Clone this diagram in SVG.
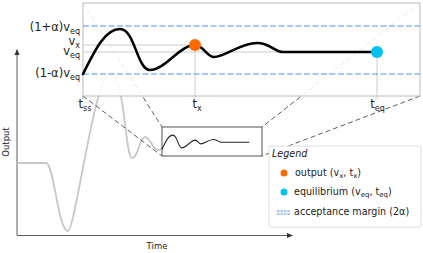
<svg xmlns="http://www.w3.org/2000/svg" width="423" height="253" viewBox="0 0 423 253">
<defs>
<style>
text{font-family:"DejaVu Sans","Liberation Sans",sans-serif;fill:#222}
.lab{font-size:11.5px}
.sub{font-size:8px}
.leg{font-size:9.6px}
.lsub{font-size:7px}
.conn{stroke:#333;stroke-width:0.8;stroke-dasharray:5,3;fill:none}
.margin{stroke:#4a90ff;stroke-width:1.2;stroke-dasharray:6,2.5;fill:none}
.guide{stroke:#cccccc;stroke-width:1;fill:none}
.axis{stroke:#333;stroke-width:0.8;fill:none}
.resp{stroke:#000;stroke-width:2.6;fill:none;stroke-linecap:round;stroke-linejoin:round}
</style>
<marker id="arr" viewBox="0 0 6 6" refX="5" refY="3" markerWidth="6" markerHeight="6" orient="auto" markerUnits="userSpaceOnUse">
<path d="M0,0.5 L6,3 L0,5.5 Z" fill="#333"/>
</marker>
<path id="curve" d="M83,74 C95,50 105,29 120,29 C135,29 137,70 150,70 C165,70 180,45 195,45 C203,45 207,57 214,57 C225,57 240,43 257,43 C270,43 275,52 283,52 L377,52"/>
</defs>
<rect width="423" height="253" fill="#fff"/>

<g id="axes">
<line class="axis" x1="17" y1="235.5" x2="17" y2="50" marker-end="url(#arr)"/>
<line class="axis" x1="17" y1="235.5" x2="292" y2="235.5" marker-end="url(#arr)"/>
<text x="8.5" y="142" font-size="8.5" text-anchor="middle" transform="rotate(-90 8.5 142)">Output</text>
<text x="157" y="249" font-size="8.5" text-anchor="middle">Time</text>
</g>

<g id="signal">
<path d="M17,163 L46,163 C54,163 58,231 68,231 C75,231 95,73 110,73 C125,73 125,158 132,158 C138,158 140,137 145,137 C150,137 153,150 158,150 C160,150 161,149 162,149" fill="none" stroke="#c8c8c8" stroke-width="1.8"/>
</g>

<g id="connectors">
<line class="conn" x1="83" y1="3" x2="162" y2="127"/>
<line class="conn" x1="83" y1="96" x2="162" y2="156"/>
<line class="conn" x1="420" y1="3" x2="262" y2="127"/>
<line class="conn" x1="420" y1="96" x2="262" y2="156"/>
</g>

<g id="zoom-source">
<rect x="162" y="127" width="100" height="29" fill="#fff" stroke="#555" stroke-width="1"/>
<use href="#curve" transform="translate(162 127) scale(0.2967 0.3118) translate(-83 -3)" fill="none" stroke="#222" stroke-width="3.6"/>
</g>

<g id="inset">
<rect x="83" y="3" width="337" height="93" fill="#fff" fill-opacity="0.87" stroke="#bbb" stroke-width="1"/>
<line class="guide" x1="83" y1="45" x2="195" y2="45"/>
<line class="guide" x1="83" y1="52" x2="377" y2="52"/>
<line class="guide" x1="195" y1="45" x2="195" y2="99"/>
<line class="guide" x1="377" y1="52" x2="377" y2="99"/>
<line class="margin" x1="83" y1="26" x2="420" y2="26"/>
<line class="margin" x1="83" y1="74" x2="420" y2="74"/>
<use href="#curve" class="resp"/>
<circle cx="195" cy="45" r="6" fill="#ff6a00"/>
<circle cx="377" cy="52" r="6" fill="#00c3f2"/>
<line x1="83" y1="96" x2="83" y2="99" stroke="#888" stroke-width="0.8"/>
<text class="lab" x="80" y="30.5" text-anchor="end">(1+α)v<tspan class="sub" dy="3">eq</tspan></text>
<text class="lab" x="80" y="45" text-anchor="end">v<tspan class="sub" dy="2.5">x</tspan></text>
<text class="lab" x="80" y="55" text-anchor="end">v<tspan class="sub" dy="3">eq</tspan></text>
<text class="lab" x="80" y="76.5" text-anchor="end">(1-α)v<tspan class="sub" dy="3">eq</tspan></text>
<text class="lab" x="85" y="108" text-anchor="middle">t<tspan class="sub" dy="3">ss</tspan></text>
<text class="lab" x="197" y="108" text-anchor="middle">t<tspan class="sub" dy="3">x</tspan></text>
<text class="lab" x="377.5" y="108" text-anchor="middle">t<tspan class="sub" dy="3">eq</tspan></text>
</g>

<g id="legend">
<rect x="269" y="146" width="152" height="81" rx="2" fill="#fff" stroke="#ddd" stroke-width="1"/>
<text class="leg" x="272" y="157" font-style="italic">Legend</text>
<circle cx="284" cy="173" r="3.5" fill="#ff6a00"/>
<text class="leg" x="295" y="176">output (v<tspan class="lsub" dy="2">x</tspan><tspan dy="-2">, t</tspan><tspan class="lsub" dy="2">x</tspan><tspan dy="-2">)</tspan></text>
<circle cx="284" cy="192" r="3.5" fill="#00c3f2"/>
<text class="leg" x="294" y="195">equilibrium (v<tspan class="lsub" dy="2">eq</tspan><tspan dy="-2">, t</tspan><tspan class="lsub" dy="2">eq</tspan><tspan dy="-2">)</tspan></text>
<line x1="277" y1="211" x2="291" y2="211" stroke="#4a90ff" stroke-width="1" stroke-dasharray="2.5,1"/>
<line x1="277" y1="214" x2="291" y2="214" stroke="#4a90ff" stroke-width="1" stroke-dasharray="2.5,1"/>
<text class="leg" x="294" y="215">acceptance margin (2α)</text>
</g>
</svg>
